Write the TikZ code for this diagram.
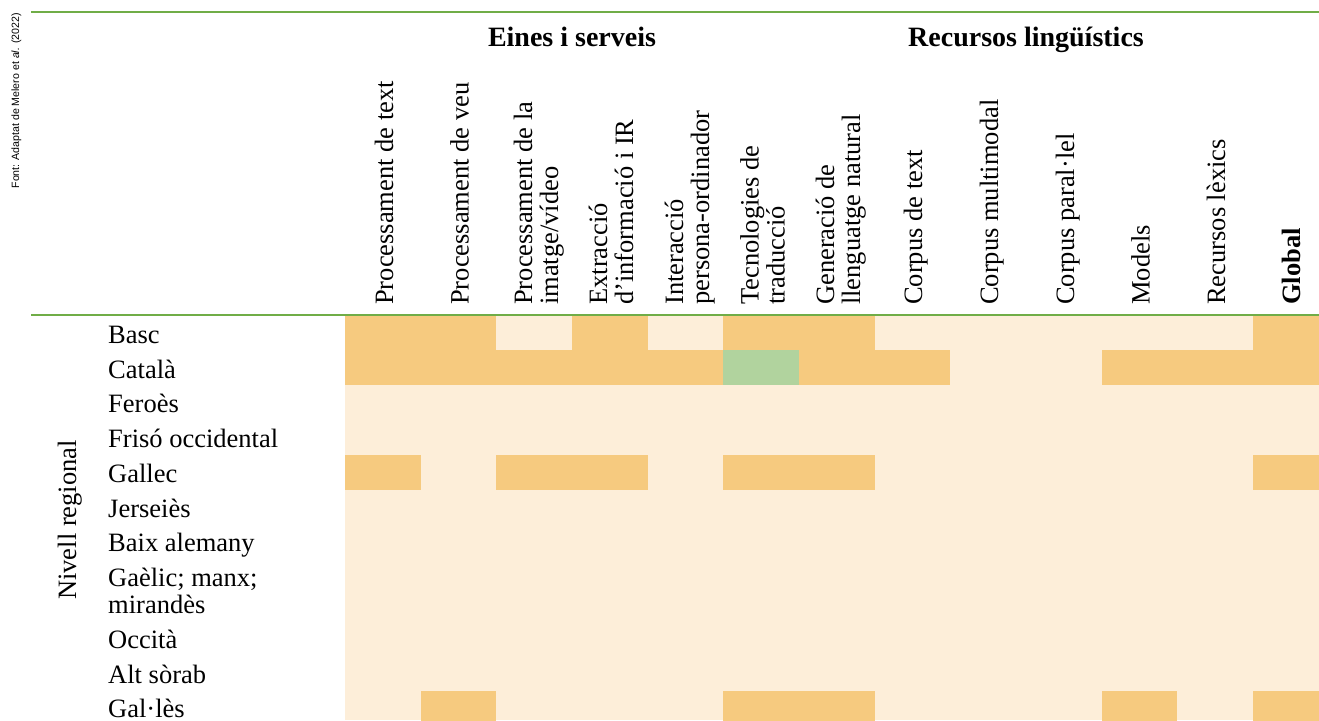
\documentclass[tikz,border=0pt]{standalone}
\usepackage{fontspec}
\setmainfont{Liberation Serif}
\newfontfamily\srcfont{Liberation Sans}
\definecolor{cellO}{HTML}{F6CA7F}
\definecolor{cellL}{HTML}{FDEED9}
\definecolor{cellG}{HTML}{B1D39E}
\definecolor{gline}{HTML}{70AD47}
\tikzset{
  lab/.style={anchor=base west, inner sep=0pt, font=\fontsize{26.5}{27}\selectfont},
  colhead/.style={anchor=base west, inner sep=0pt, rotate=90, font=\fontsize{26.5}{27}\selectfont},
  grouphead/.style={anchor=base, inner sep=0pt, font=\fontsize{28}{30}\selectfont\bfseries},
  rule/.style={draw=gline, line width=1.3pt}
}
\begin{document}
\begin{tikzpicture}[x=1pt,y=-1pt]
\useasboundingbox (0,0) rectangle (1319,720);
\clip (0,0) rectangle (1319,720);
% light background of the grid
\fill[cellL] (345,315) rectangle (1319,720);
% orange cells
\foreach \top/\cols in {315/{1,2,4,6,7,13}, 350/{1,2,3,4,5,7,8,11,12,13}, 455/{1,3,4,6,7,13}, 690.5/{2,6,7,11,13}} {
  \foreach \c in \cols {
    \fill[cellO] ({345+(\c-1)*75.67},\top) rectangle ++(75.67,35);
  }
}
% green cell
\fill[cellG] ({345+5*75.67},350) rectangle ++(75.67,35);
% rules
\coordinate (r1a) at (31,12);
\coordinate (r1b) at (1319,12);
\coordinate (r2a) at (31,315);
\coordinate (r2b) at (1319,315);
\draw[rule] (r1a) -- (r1b);
\draw[rule] (r2a) -- (r2b);
% source
\node[rotate=90, anchor=base east, inner sep=0pt, font=\fontsize{10.6}{12}\srcfont] (src) at (19,13) {Font: Adaptat de Melero et \textit{al.} (2022)};
% group headers
\node[grouphead] (g1) at (572,46) {Eines i serveis};
\node[grouphead] (g2) at (1026,46) {Recursos lingüístics};
% column headers
\node[colhead] (h1) at (393,305) {Processament de text};
\node[colhead] (h2) at (468.7,305) {Processament de veu};
\node[colhead] (h3a) at (532,305) {Processament de la};
\node[colhead] (h3b) at (558,305) {imatge/vídeo};
\node[colhead] (h4a) at (607,305) {Extracció};
\node[colhead] (h4b) at (633,305) {d’informació i IR};
\node[colhead] (h5a) at (683,305) {Interacció};
\node[colhead] (h5b) at (709,305) {persona-ordinador};
\node[colhead] (h6a) at (758.5,305) {Tecnologies de};
\node[colhead] (h6b) at (784.5,305) {traducció};
\node[colhead] (h7a) at (834,305) {Generació de};
\node[colhead] (h7b) at (860,305) {llenguatge natural};
\node[colhead] (h8) at (922,305) {Corpus de text};
\node[colhead] (h9) at (998,305) {Corpus multimodal};
\node[colhead] (h10) at (1074,305) {Corpus paral·lel};
\node[colhead] (h11) at (1149.5,305) {Models};
\node[colhead] (h12) at (1225,305) {Recursos lèxics};
\node[colhead, font=\fontsize{26.5}{27}\selectfont\bfseries] (h13) at (1300,305) {Global};
% side label
\node[rotate=90, anchor=base, inner sep=0pt, font=\fontsize{26.5}{27}\selectfont] (side) at (76,520) {Nivell regional};
% row labels
\node[lab] (l1) at (108,343) {Basc};
\node[lab] (l2) at (108,378) {Català};
\node[lab] (l3) at (108,412.5) {Feroès};
\node[lab] (l4) at (108,447.5) {Frisó occidental};
\node[lab] (l5) at (108,482) {Gallec};
\node[lab] (l6) at (108,517) {Jerseiès};
\node[lab] (l7) at (108,551.5) {Baix alemany};
\node[lab] (l8a) at (108,586) {Gaèlic; manx;};
\node[lab] (l8b) at (108,613) {mirandès};
\node[lab] (l9) at (108,648) {Occità};
\node[lab] (l10) at (108,683) {Alt sòrab};
\node[lab] (l11) at (108,717) {Gal·lès};
\end{tikzpicture}
\end{document}
